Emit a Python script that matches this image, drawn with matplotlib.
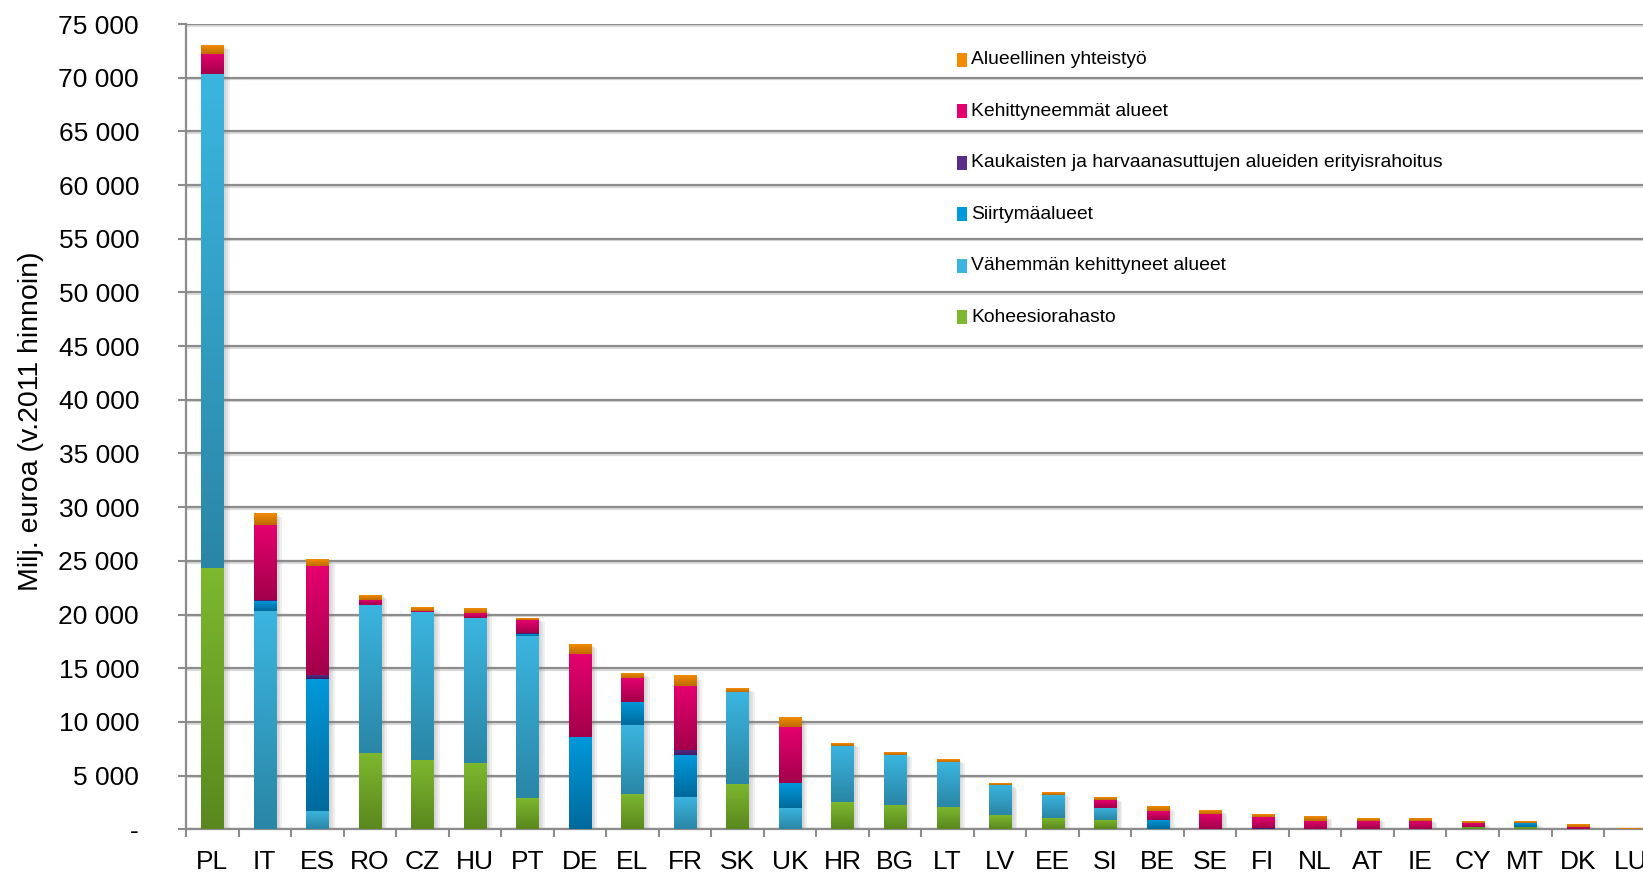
import numpy as np
import matplotlib
matplotlib.use('Agg')
import matplotlib.pyplot as plt
import matplotlib.patheffects as pe
from matplotlib import font_manager
from matplotlib.colors import LinearSegmentedColormap
from matplotlib.patches import Rectangle
from matplotlib.ticker import FuncFormatter

# milj. euroa
countries = ['PL', 'IT', 'ES', 'RO', 'CZ', 'HU', 'PT', 'DE', 'EL', 'FR', 'SK', 'UK', 'HR', 'BG',
             'LT', 'LV', 'EE', 'SI', 'BE', 'SE', 'FI', 'NL', 'AT', 'IE', 'CY', 'MT', 'DK', 'LU']
koheesio = [24300, 0, 0, 7100, 6500, 6200, 2900, 0, 3300, 0, 4200, 0, 2500, 2300,
            2100, 1300, 1050, 870, 0, 0, 0, 0, 0, 0, 210, 190, 0, 0]
vahemman = [46000, 20300, 1700, 13800, 13700, 13500, 15070, 0, 6400, 3000, 8600, 2000, 5300, 4600,
            4200, 2800, 2150, 1130, 0, 0, 0, 0, 0, 0, 0, 0, 0, 0]
siirtyma = [0, 1000, 12300, 0, 0, 0, 180, 8600, 2200, 3900, 0, 2300, 0, 0,
            0, 0, 0, 0, 900, 0, 0, 0, 0, 0, 0, 370, 0, 0]
kaukaiset = [0, 60, 400, 0, 0, 0, 130, 0, 0, 500, 0, 0, 0, 0,
             0, 0, 0, 0, 0, 0, 150, 0, 0, 0, 0, 0, 0, 0]
kehittyneemmat = [1900, 6940, 10100, 500, 90, 400, 1180, 7700, 2200, 5900, 0, 5200, 0, 0,
                  0, 0, 0, 700, 800, 1450, 950, 800, 800, 770, 350, 0, 240, 30]
alueellinen = [800, 1100, 600, 450, 340, 400, 160, 900, 400, 1000, 300, 900, 250, 200,
               200, 100, 200, 200, 400, 350, 230, 440, 250, 190, 120, 120, 260, 10]

labels = ['Koheesiorahasto', 'Vähemmän kehittyneet alueet', 'Siirtymäalueet',
          'Kaukaisten ja harvaanasuttujen alueiden erityisrahoitus',
          'Kehittyneemmät alueet', 'Alueellinen yhteistyö']
# (top colour, bottom colour) of each segment's gradient
colors = [('#7DB82F', '#5A881E'), ('#3BB5E0', '#2A86A6'), ('#0099DB', '#006A9C'),
          ('#5A2C8A', '#3C1B64'), ('#E5006E', '#A3004B'), ('#F28B00', '#BF6A00')]
series = [koheesio, vahemman, siirtyma, kaukaiset, kehittyneemmat, alueellinen]

installed = {f.name for f in font_manager.fontManager.ttflist}
base_font = 'Liberation Sans' if 'Liberation Sans' in installed else 'DejaVu Sans'
if 'Liberation Sans Narrow' in installed:
    narrow_font, legend_size = 'Liberation Sans Narrow', 17
else:
    narrow_font, legend_size = base_font, 13.85
plt.rcParams['font.family'] = base_font

W, H = 1643, 872
fig = plt.figure(figsize=(W / 100, H / 100), dpi=100)
y0, y75 = 829.3, 24.0
step = 52.52
ax = fig.add_axes([186 / W, (H - y0) / H, 28 * step / W, (y0 - y75) / H])

x = np.arange(len(countries))
width = 0.42
totals = np.sum(np.array(series, float), axis=0)

# full-bar white rectangles carry a soft shadow
shadow = [pe.SimplePatchShadow(offset=(o, -o * 0.6), shadow_rgbFace='#777777', alpha=0.11)
          for o in (4.5, 3.2, 2.0)]
for xi, t in zip(x, totals):
    ax.add_patch(Rectangle((xi - width / 2, 0), width, t, facecolor='white', edgecolor='none', zorder=2,
                           path_effects=shadow + [pe.Normal()]))

grad = np.linspace(0, 1, 64).reshape(-1, 1)
bottom = np.zeros(len(countries))
for vals, (top_c, bot_c), lab in zip(series, colors, labels):
    vals = np.array(vals, float)
    cmap = LinearSegmentedColormap.from_list(lab, [bot_c, top_c])
    for xi, b, v in zip(x, bottom, vals):
        if v <= 0:
            continue
        ax.imshow(grad, cmap=cmap, extent=(xi - width / 2, xi + width / 2, b, b + v), origin='lower',
                  aspect='auto', interpolation='bilinear', zorder=3)
    bottom += vals

ax.set_xlim(-0.5, len(countries) - 0.5)
ax.set_ylim(0, 75000)

gray = '#8c8c8c'
ax.set_yticks(np.arange(0, 75001, 5000))
ax.yaxis.set_major_formatter(FuncFormatter(lambda v, _: '-' if v == 0 else f'{int(v):,}'.replace(',', ' ')))
ax.yaxis.grid(True, color=gray, linewidth=1.6)
ax.set_axisbelow(True)
for gl in ax.get_ygridlines():
    gl.set_path_effects([pe.SimpleLineShadow(offset=(0, -1.2), shadow_color='#999999', alpha=0.35), pe.Normal()])

ax.set_xticks(x)
ax.set_xticklabels(countries)
ax.set_xticks(np.arange(-0.5, len(countries)), minor=True)
ax.tick_params(axis='x', which='major', length=0, pad=15, labelsize=19)
ax.tick_params(axis='x', which='minor', length=5.8, width=1.5, color=gray)
ax.tick_params(axis='y', length=5.8, width=1.5, color=gray, pad=28, labelsize=19)

for s in ['top', 'right']:
    ax.spines[s].set_visible(False)
for s in ['left', 'bottom']:
    ax.spines[s].set_color(gray)
    ax.spines[s].set_linewidth(1.6)

ax.set_ylabel('Milj. euroa (v.2011 hinnoin)', fontsize=20.5, va='center')
ax.yaxis.set_label_coords((31 - 186) / (28 * step), (y0 - 421.5) / (y0 - y75))

# legend, top entry first
for i in range(len(labels)):
    k = len(labels) - 1 - i
    yc = 60 + i * 51.47
    top_c, bot_c = colors[k]
    fig.patches.append(Rectangle((957 / W, 1 - (yc + 7) / H), 10 / W, 14 / H, facecolor=top_c,
                                 edgecolor='none', transform=fig.transFigure, figure=fig))
    fig.text(971 / W, 1 - yc / H, labels[k], fontsize=legend_size, family=narrow_font,
             va='center', ha='left')

fig.savefig('out.png', dpi=100)
